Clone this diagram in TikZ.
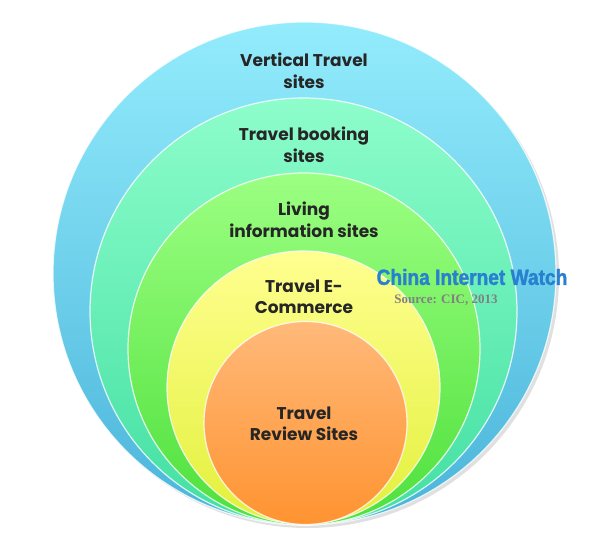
\documentclass[tikz,border=0pt]{standalone}
\usepackage{fontspec}
\setmainfont{Poppins}
\newfontfamily\cinwfont[FakeStretch=0.87, FakeBold=1.5]{Liberation Sans}
\newfontfamily\srcfont{Liberation Serif}

\definecolor{cyanTop}{HTML}{93ECFC}
\definecolor{cyanBot}{HTML}{4AB4DA}
\definecolor{tealTop}{HTML}{8DFDCB}
\definecolor{tealBot}{HTML}{42DFA2}
\definecolor{greenTop}{HTML}{9CFF82}
\definecolor{greenBot}{HTML}{4EE03C}
\definecolor{yellowTop}{HTML}{FFFF90}
\definecolor{yellowBot}{HTML}{E2F03A}
\definecolor{orangeTop}{HTML}{FFB97A}
\definecolor{orangeBot}{HTML}{FF9330}
\definecolor{labelText}{HTML}{262626}
\definecolor{cinwBlue}{HTML}{2A80D0}
\definecolor{sourceGray}{HTML}{808080}

\tikzset{
  ring/.style={line width=1.2pt, draw=white, draw opacity=0.8},
  ringlabel/.style={font=\fontsize{17}{21.5}\selectfont\bfseries, text=labelText, align=center},
}

\begin{document}
\begin{tikzpicture}[x=1pt, y=-1pt]
    \useasboundingbox (0,0) rectangle (600,534);
% shadow of the outer ring
    \fill[black!12] (307.5,276.5) circle (251.5);
% rings, outer to inner
    \shade[ring, top color=cyanTop, bottom color=cyanBot] (304.5,273.5) circle (251.5);
    \shade[ring, top color=tealTop, bottom color=tealBot] (303.5,311.5) circle (213.5);
    \shade[ring, top color=greenTop, bottom color=greenBot] (304,349) circle (176);
    \shade[ring, top color=yellowTop, bottom color=yellowBot] (303.5,387.5) circle (136.5);
    \shade[ring, top color=orangeTop, bottom color=orangeBot] (305.5,423) circle (101.5);
% ring labels
    \node[ringlabel] (vertical) at (304,71) {Vertical Travel\\sites};
    \node[ringlabel] (booking) at (304,145) {Travel booking\\sites};
    \node[ringlabel] (living) at (304,220) {Living\\information sites};
    \node[ringlabel] (ecommerce) at (304,297) {Travel E-\\Commerce};
    \node[ringlabel] (review) at (304,424) {Travel\\Review Sites};
% watermark
    \node[font=\cinwfont\bfseries\fontsize{22}{24}\selectfont, text=cinwBlue] (cinw) at (472,277) {China Internet Watch};
    \node[font=\srcfont\bfseries\fontsize{13}{15}\selectfont, text=sourceGray] (source) at (446,300) {Source: CIC, 2013};
\end{tikzpicture}
\end{document}
